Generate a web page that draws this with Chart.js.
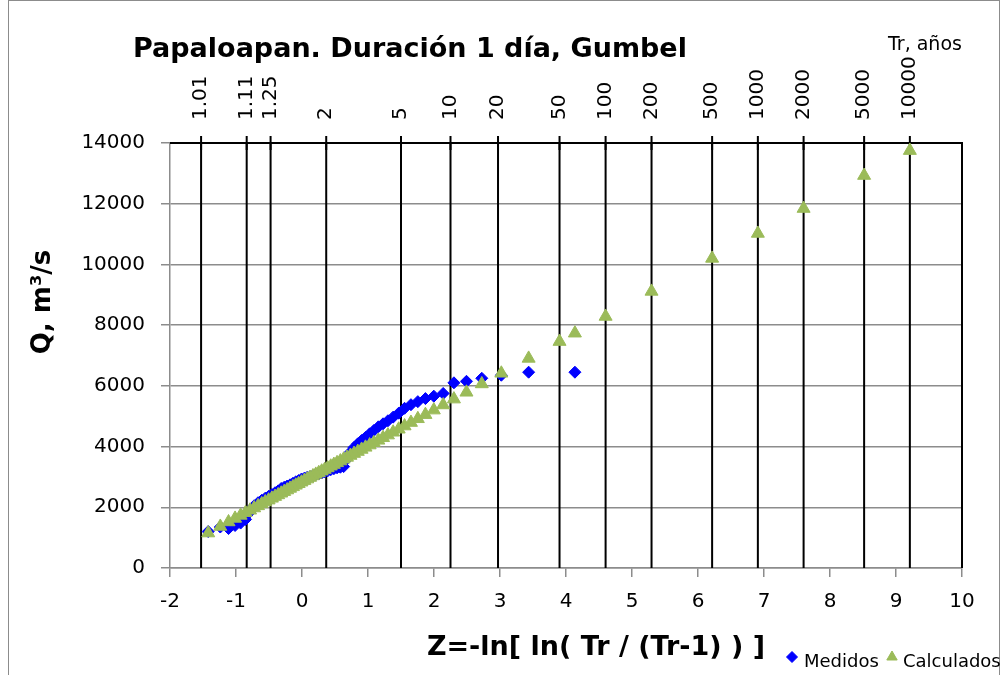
<!DOCTYPE html>
<html>
<head>
<meta charset="utf-8">
<script src="https://cdn.jsdelivr.net/npm/chart.js@4.4.0/dist/chart.umd.min.js"></script>
<style>
html, body { margin: 0; padding: 0; background: #fff; }
</style>
</head>
<body>
<canvas id="grafico" width="1005" height="675"></canvas>
<script>
// Datos medidos (posicion de graficacion Z y gasto Q)
const zMedidos = [4.135, 3.434, 3.020, 2.724, 2.492, 2.302, 2.139, 1.997, 1.870, 1.755,
  1.651, 1.554, 1.465, 1.381, 1.302, 1.228, 1.157, 1.089, 1.025, 0.962,
  0.903, 0.845, 0.789, 0.735, 0.682, 0.631, 0.581, 0.531, 0.483, 0.436,
  0.389, 0.344, 0.298, 0.254, 0.209, 0.166, 0.122, 0.079, 0.036, -0.008,
  -0.051, -0.094, -0.137, -0.181, -0.225, -0.270, -0.315, -0.361, -0.408, -0.456,
  -0.506, -0.557, -0.610, -0.666, -0.725, -0.787, -0.855, -0.930, -1.014, -1.113,
  -1.238, -1.421];
const qMedidos = [6450, 6450, 6350, 6250, 6150, 6100, 5750, 5660, 5580, 5480,
  5380, 5260, 5100, 4970, 4850, 4750, 4650, 4530, 4420, 4300,
  4200, 4090, 3970, 3820, 3600, 3340, 3320, 3300, 3270, 3240,
  3200, 3170, 3130, 3100, 3080, 3040, 3010, 2990, 2960, 2930,
  2880, 2840, 2790, 2740, 2700, 2660, 2620, 2540, 2480, 2420,
  2360, 2300, 2230, 2150, 2050, 1850, 1600, 1480, 1400, 1300,
  1350, 1200];

// Valores calculados con Gumbel
const zCalculados = [4.135, 3.434, 3.020, 2.724, 2.492, 2.302, 2.139, 1.997, 1.870, 1.755,
  1.651, 1.554, 1.465, 1.381, 1.302, 1.228, 1.157, 1.089, 1.025, 0.962,
  0.903, 0.845, 0.789, 0.735, 0.682, 0.631, 0.581, 0.531, 0.483, 0.436,
  0.389, 0.344, 0.298, 0.254, 0.209, 0.166, 0.122, 0.079, 0.036, -0.008,
  -0.051, -0.094, -0.137, -0.181, -0.225, -0.270, -0.315, -0.361, -0.408, -0.456,
  -0.506, -0.557, -0.610, -0.666, -0.725, -0.787, -0.855, -0.930, -1.014, -1.113,
  -1.238, -1.421,
  3.902, 4.600, 5.296, 6.214, 6.907, 7.600, 8.517, 9.210];
const qCalculados = [7735, 6904, 6414, 6063, 5788, 5563, 5370, 5201, 5051, 4915,
  4791, 4676, 4571, 4471, 4378, 4290, 4206, 4125, 4050, 3975,
  3905, 3836, 3770, 3706, 3643, 3583, 3523, 3464, 3407, 3352,
  3296, 3243, 3188, 3136, 3083, 3032, 2980, 2929, 2878, 2826,
  2775, 2724, 2673, 2621, 2568, 2515, 2462, 2407, 2352, 2295,
  2235, 2175, 2112, 2046, 1976, 1902, 1822, 1733, 1633, 1516,
  1368, 1151,
  7459, 8286, 9111, 10198, 11020, 11841, 12928, 13749];

// Periodos de retorno (lineas verticales)
const trEtiquetas = ['1.01', '1.11', '1.25', '2', '5', '10', '20', '50', '100', '200', '500', '1000', '2000', '5000', '10000'];
const zTr = [-1.529, -0.838, -0.476, 0.367, 1.500, 2.250, 2.970, 3.902, 4.600, 5.296, 6.214, 6.907, 7.600, 8.517, 9.210];

const Q_MAX = 14000;

const FUENTE = "'DejaVu Sans', Verdana, sans-serif";
Chart.defaults.font.family = FUENTE;
Chart.defaults.color = '#000';

const puntosMedidos = zMedidos.map((z, i) => ({ x: z, y: qMedidos[i] }));
const puntosCalculados = zCalculados.map((z, i) => ({ x: z, y: qCalculados[i] }));
const lineasTr = [];
zTr.forEach(z => {
    lineasTr.push({ x: z, y: 0 }, { x: z, y: Q_MAX }, { x: z, y: null });
});
const crucesTr = zTr.map(z => ({ x: z, y: Q_MAX }));

const decoracion = {
    id: 'decoracion',
    beforeDraw(chart) {
        const ctx = chart.ctx;
        ctx.save();
        ctx.fillStyle = '#fff';
        ctx.fillRect(0, 0, chart.width, chart.height);
        ctx.strokeStyle = '#8c8c8c';
        ctx.lineWidth = 1;
        ctx.strokeRect(8.5, 0.5, 991, 700);
        ctx.restore();
    },
    beforeDatasetsDraw(chart) {
        const { ctx, chartArea: a } = chart;
        ctx.save();
        ctx.strokeStyle = '#000';
        ctx.lineWidth = 2;
        ctx.beginPath();
        ctx.moveTo(a.left, a.top);
        ctx.lineTo(a.right, a.top);
        ctx.lineTo(a.right, a.bottom);
        ctx.stroke();
        ctx.restore();
    },
    afterDraw(chart) {
        const ctx = chart.ctx;
        const xs = chart.scales.x;
        ctx.save();
        ctx.fillStyle = '#000';

        // titulo
        ctx.font = 'bold 27px ' + FUENTE;
        ctx.textAlign = 'left';
        ctx.textBaseline = 'alphabetic';
        ctx.fillText('Papaloapan. Duración 1 día, Gumbel', 133, 57);

        ctx.font = '19px ' + FUENTE;
        ctx.fillText('Tr, años', 888, 50);

        // etiquetas de Tr, giradas
        ctx.font = '20px ' + FUENTE;
        trEtiquetas.forEach((t, i) => {
            const x = xs.getPixelForValue(zTr[i]);
            ctx.save();
            ctx.translate(x, 120);
            ctx.rotate(-Math.PI / 2);
            ctx.textAlign = 'left';
            ctx.textBaseline = 'middle';
            ctx.fillText(t, 0, 0);
            ctx.restore();
        });

        // titulos de ejes
        ctx.font = 'bold 26px ' + FUENTE;
        ctx.save();
        ctx.translate(50, 302);
        ctx.rotate(-Math.PI / 2);
        ctx.textAlign = 'center';
        ctx.textBaseline = 'alphabetic';
        ctx.fillText('Q, m³/s', 0, 0);
        ctx.restore();

        ctx.font = 'bold 27px ' + FUENTE;
        ctx.textAlign = 'center';
        ctx.fillText('Z=-ln[ ln( Tr / (Tr-1) ) ]', 596, 655);
        ctx.restore();

        // leyenda
        ctx.save();
        ctx.font = '18px ' + FUENTE;
        ctx.textAlign = 'left';
        ctx.textBaseline = 'alphabetic';
        ctx.fillStyle = '#0000ff';
        ctx.strokeStyle = '#0000ff';
        ctx.lineWidth = 1;
        Chart.helpers.drawPoint(ctx, { pointStyle: 'rectRot', radius: 5.5, borderWidth: 1 }, 792, 657);
        ctx.fillStyle = '#000';
        ctx.fillText('Medidos', 804, 667);
        ctx.fillStyle = '#9bbb59';
        ctx.strokeStyle = '#9bbb59';
        Chart.helpers.drawPoint(ctx, { pointStyle: 'triangle', radius: 6, borderWidth: 1 }, 892, 657);
        ctx.fillStyle = '#000';
        ctx.fillText('Calculados', 903, 667);
        ctx.restore();
    }
};

const ctx = document.getElementById('grafico');
const grafico = new Chart(ctx, {
    type: 'scatter',
    data: {
        datasets: [
            {
                label: 'Calculados',
                data: puntosCalculados,
                pointStyle: 'triangle',
                pointRadius: 7.5,
                backgroundColor: '#9bbb59',
                borderColor: '#9bbb59',
                borderWidth: 1
            },
            {
                label: 'Medidos',
                data: puntosMedidos,
                pointStyle: 'rectRot',
                pointRadius: 6,
                backgroundColor: '#0000ff',
                borderColor: '#0000ff',
                borderWidth: 1
            },
            {
                label: 'cruces',
                data: crucesTr,
                pointStyle: 'cross',
                pointRadius: 7,
                borderColor: '#000',
                borderWidth: 2,
                clip: false
            },
            {
                label: 'lineas',
                data: lineasTr,
                showLine: true,
                spanGaps: false,
                pointRadius: 0,
                borderColor: '#000',
                borderWidth: 2
            }
        ]
    },
    options: {
        responsive: false,
        devicePixelRatio: 1,
        animation: false,
        layout: { padding: { left: 0, right: 43, top: 143, bottom: 0 } },
        plugins: {
            legend: { display: false },
            tooltip: { enabled: false },
            title: { display: false }
        },
        scales: {
            x: {
                type: 'linear',
                min: -2,
                max: 10,
                afterFit: s => { s.height = 107; },
                ticks: { stepSize: 1, padding: 13, font: { size: 20 }, color: '#000', callback: v => String(v) },
                grid: { drawOnChartArea: false, drawTicks: true, tickLength: 9, color: '#8c8c8c', lineWidth: 1.5 },
                border: { color: '#8c8c8c', width: 1.5 }
            },
            y: {
                min: 0,
                max: Q_MAX,
                afterFit: s => { s.width = 170; },
                ticks: { stepSize: 2000, padding: 16, font: { size: 20 }, color: '#000', callback: v => String(v) },
                grid: { color: '#8c8c8c', lineWidth: 1.5, tickLength: 9 },
                border: { color: '#8c8c8c', width: 1.5 }
            }
        }
    },
    plugins: [decoracion]
});
</script>
</body>
</html>
